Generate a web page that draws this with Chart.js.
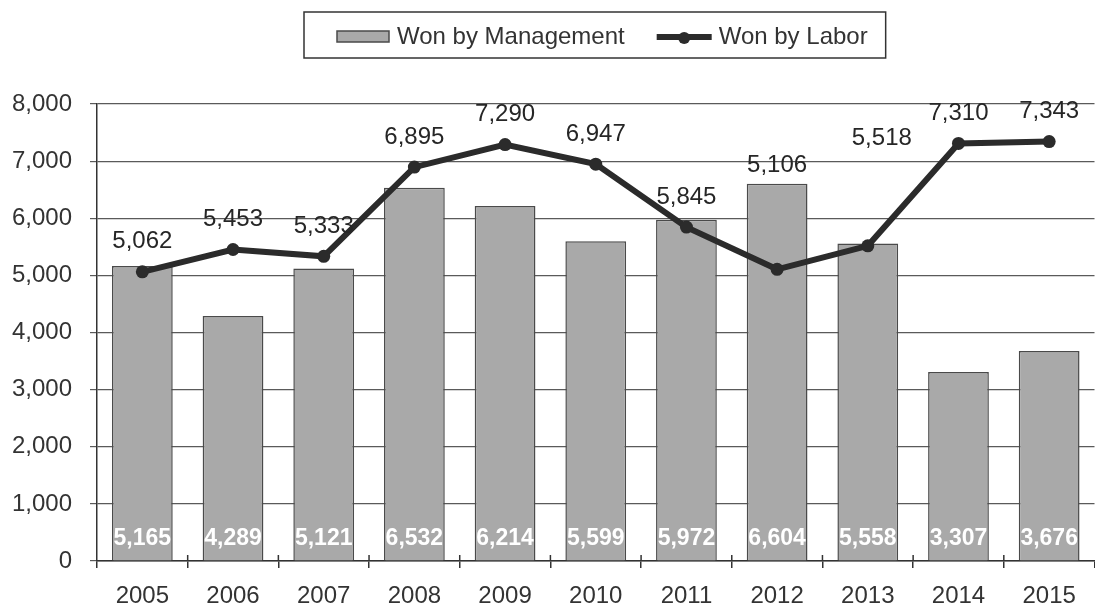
<!DOCTYPE html>
<html>
<head>
<meta charset="utf-8">
<title>Won by Management vs. Won by Labor</title>
<script src="https://cdn.jsdelivr.net/npm/chart.js@4/dist/chart.umd.min.js"></script>
<style>
  html, body { margin: 0; padding: 0; background: #fff; overflow: hidden; }
  #wrap { width: 1095px; height: 611px; overflow: hidden; }
  canvas { display: block; }
</style>
</head>
<body>
<div id="wrap"><canvas id="chart" width="1101" height="611"></canvas></div>
<script>
const years = ['2005', '2006', '2007', '2008', '2009', '2010', '2011', '2012', '2013', '2014', '2015'];
const wonByManagement = [5165, 4289, 5121, 6532, 6214, 5599, 5972, 6604, 5558, 3307, 3676];
const wonByLabor = [5062, 5453, 5333, 6895, 7290, 6947, 5845, 5106, 5518, 7310, 7343];
const yTicks = [0, 1000, 2000, 3000, 4000, 5000, 6000, 7000, 8000];

const FONT = '"Liberation Sans", Arial, Helvetica, sans-serif';
const INK = '#333333';
const BAR_FILL = '#a9a9a9';
const BAR_EDGE = '#4a4a4a';
const LINE_INK = '#2b2b2b';

Chart.defaults.font.family = FONT;
Chart.defaults.color = INK;

const fmt = v => Number(v).toLocaleString('en-US');

// a couple of labor labels sit higher than the rest
const laborLabelShift = { 7: [0, -74], 8: [14, -77] };

const valueLabels = {
  id: 'valueLabels',
  afterDatasetsDraw(chart) {
    const ctx = chart.ctx;
    ctx.save();
    ctx.textAlign = 'center';
    ctx.textBaseline = 'middle';

    // management counts, white, near the foot of each bar
    ctx.font = 'bold 23px ' + FONT;
    ctx.fillStyle = '#ffffff';
    chart.getDatasetMeta(0).data.forEach((bar, i) => {
      ctx.fillText(fmt(wonByManagement[i]), bar.x, bar.base - 22);
    });

    // labor counts above the line markers
    ctx.font = '24px ' + FONT;
    ctx.fillStyle = '#262626';
    chart.getDatasetMeta(1).data.forEach((pt, i) => {
      const [dx, dy] = laborLabelShift[i] || [0, 0];
      ctx.fillText(fmt(wonByLabor[i]), pt.x + dx, pt.y - 30 + dy);
    });
    ctx.restore();
  }
};

// x tick marks cross the axis line
const crossTicks = {
  id: 'crossTicks',
  afterDraw(chart) {
    const x = chart.scales.x;
    const ctx = chart.ctx;
    const n = chart.data.labels.length;
    ctx.save();
    ctx.strokeStyle = INK;
    ctx.lineWidth = 1.5;
    ctx.beginPath();
    for (let i = 1; i < n; i++) {
      const px = (x.getPixelForTick(i - 1) + x.getPixelForTick(i)) / 2;
      ctx.moveTo(px, x.top - 6);
      ctx.lineTo(px, x.top);
    }
    ctx.stroke();
    ctx.restore();
  }
};

const boxedLegend = {
  id: 'boxedLegend',
  afterDraw(chart) {
    const ctx = chart.ctx;
    const [bars, line] = chart.data.datasets;
    const cy = 37;
    ctx.save();
    ctx.font = '24px ' + FONT;
    ctx.textBaseline = 'middle';
    ctx.textAlign = 'left';

    let x = 337;
    ctx.fillStyle = bars.backgroundColor;
    ctx.fillRect(x, cy - 6, 52, 11);
    ctx.strokeStyle = bars.borderColor;
    ctx.lineWidth = 1.5;
    ctx.strokeRect(x, cy - 6, 52, 11);
    x += 60;
    ctx.fillStyle = INK;
    ctx.fillText(bars.label, x, cy);
    x += ctx.measureText(bars.label).width + 32;

    ctx.strokeStyle = line.borderColor;
    ctx.lineWidth = 6;
    ctx.beginPath();
    ctx.moveTo(x, cy);
    ctx.lineTo(x + 55, cy);
    ctx.stroke();
    ctx.fillStyle = line.borderColor;
    ctx.beginPath();
    ctx.arc(x + 27.5, cy + 1, 6, 0, Math.PI * 2);
    ctx.fill();
    x += 62;
    ctx.fillStyle = INK;
    ctx.fillText(line.label, x, cy);
    x += ctx.measureText(line.label).width;

    ctx.strokeStyle = INK;
    ctx.lineWidth = 1.5;
    ctx.strokeRect(304, 12, x + 18 - 304, 46);
    ctx.restore();
  }
};

new Chart(document.getElementById('chart'), {
  data: {
    labels: years,
    datasets: [{
      type: 'bar',
      label: 'Won by Management',
      data: wonByManagement,
      backgroundColor: BAR_FILL,
      borderColor: BAR_EDGE,
      borderWidth: 1.5,
      barPercentage: 0.67,
      categoryPercentage: 1,
      order: 2
    }, {
      type: 'line',
      label: 'Won by Labor',
      data: wonByLabor,
      borderColor: LINE_INK,
      borderWidth: 6,
      pointRadius: 6.5,
      pointBackgroundColor: LINE_INK,
      pointBorderColor: LINE_INK,
      pointBorderWidth: 0,
      tension: 0,
      order: 1
    }]
  },
  options: {
    responsive: false,
    animation: false,
    events: [],
    layout: { padding: { top: 104, right: 0, bottom: 0, left: 0 } },
    scales: {
      x: {
        offset: true,
        grid: { drawOnChartArea: false, drawTicks: true, tickLength: 7, color: INK, lineWidth: 1.5, offset: true },
        border: { color: INK, width: 1.5 },
        ticks: { font: { size: 24 }, padding: 14, color: INK, maxRotation: 0 },
        afterFit: s => { s.height = 50; }
      },
      y: {
        min: 0,
        max: 8000,
        grid: { color: '#5a5a5a', lineWidth: 1.2, tickLength: 7 },
        border: { color: INK, width: 1.5 },
        ticks: { font: { size: 24 }, padding: 18, color: INK, callback: v => fmt(v) },
        afterBuildTicks: s => { s.ticks = yTicks.map(v => ({ value: v })); },
        afterFit: s => { s.width = 97; }
      }
    },
    plugins: {
      legend: { display: false },
      tooltip: { enabled: false }
    }
  },
  plugins: [valueLabels, crossTicks, boxedLegend]
});
</script>
</body>
</html>
